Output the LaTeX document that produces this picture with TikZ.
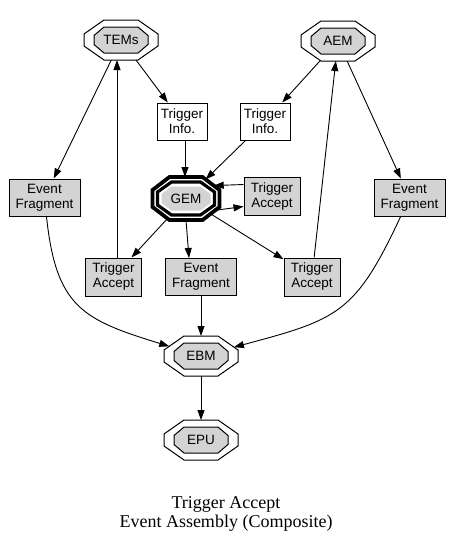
\documentclass[tikz,border=0pt]{standalone}
\usepackage{fontspec}
\setmainfont{Liberation Sans}
\newfontfamily\captionfont{Liberation Serif}
\usetikzlibrary{arrows.meta}
\definecolor{nodegray}{HTML}{D3D3D3}

% stretched octagon (graphviz style), cut sizes set by octagon xcut/ycut
\makeatletter
\pgfkeys{/pgf/octagon xcut/.initial=10pt, /pgf/octagon ycut/.initial=8pt}
\pgfdeclareshape{gvoctagon}{%
  \inheritsavedanchors[from=rectangle]%
  \inheritanchor[from=rectangle]{center}%
  \inheritanchor[from=rectangle]{north}%
  \inheritanchor[from=rectangle]{south}%
  \inheritanchor[from=rectangle]{east}%
  \inheritanchor[from=rectangle]{west}%
  \inheritanchor[from=rectangle]{text}%
  \inheritanchor[from=rectangle]{mid}%
  \inheritanchor[from=rectangle]{base}%
  \saveddimen{\octxc}{\pgfmathsetlength\pgf@x{\pgfkeysvalueof{/pgf/octagon xcut}}}%
  \saveddimen{\octyc}{\pgfmathsetlength\pgf@x{\pgfkeysvalueof{/pgf/octagon ycut}}}%
  \backgroundpath{%
    \southwest \pgf@xa=\pgf@x \pgf@ya=\pgf@y
    \northeast \pgf@xb=\pgf@x \pgf@yb=\pgf@y
    \edef\octxa{\the\pgf@xa}\edef\octya{\the\pgf@ya}%
    \edef\octxb{\the\pgf@xb}\edef\octyb{\the\pgf@yb}%
    \pgf@xc=\pgf@xa \advance\pgf@xc by\octxc \edef\octlx{\the\pgf@xc}%
    \pgf@xc=\pgf@xb \advance\pgf@xc by-\octxc \edef\octrx{\the\pgf@xc}%
    \pgf@yc=\pgf@ya \advance\pgf@yc by\octyc \edef\octby{\the\pgf@yc}%
    \pgf@yc=\pgf@yb \advance\pgf@yc by-\octyc \edef\octty{\the\pgf@yc}%
    \pgfpathmoveto{\pgfqpoint{\octlx}{\octyb}}%
    \pgfpathlineto{\pgfqpoint{\octrx}{\octyb}}%
    \pgfpathlineto{\pgfqpoint{\octxb}{\octty}}%
    \pgfpathlineto{\pgfqpoint{\octxb}{\octby}}%
    \pgfpathlineto{\pgfqpoint{\octrx}{\octya}}%
    \pgfpathlineto{\pgfqpoint{\octlx}{\octya}}%
    \pgfpathlineto{\pgfqpoint{\octxa}{\octby}}%
    \pgfpathlineto{\pgfqpoint{\octxa}{\octty}}%
    \pgfpathclose
  }%
  \anchorborder{%
    \edef\octdx{\pgf@sys@tonumber\pgf@x}%
    \edef\octdy{\pgf@sys@tonumber\pgf@y}%
    \southwest \pgf@xa=\pgf@x \pgf@ya=\pgf@y
    \northeast \pgf@xb=\pgf@x \pgf@yb=\pgf@y
    \pgf@xc=\pgf@xb \advance\pgf@xc by-\pgf@xa \pgf@xc=.5\pgf@xc
    \pgf@yc=\pgf@yb \advance\pgf@yc by-\pgf@ya \pgf@yc=.5\pgf@yc
    \edef\octa{\pgf@sys@tonumber\pgf@xc}\edef\octb{\pgf@sys@tonumber\pgf@yc}%
    \advance\pgf@xa by\pgf@xc \advance\pgf@ya by\pgf@yc
    \edef\octcx{\the\pgf@xa}\edef\octcy{\the\pgf@ya}%
    \pgf@xc=\octxc \edef\octp{\pgf@sys@tonumber\pgf@xc}%
    \pgf@yc=\octyc \edef\octq{\pgf@sys@tonumber\pgf@yc}%
    \pgfmathsetmacro\octlen{max(veclen(\octdx,\octdy),0.001)}%
    \pgfmathsetmacro\octux{max(abs(\octdx)/\octlen,0.01)}%
    \pgfmathsetmacro\octuy{max(abs(\octdy)/\octlen,0.01)}%
    \pgfmathsetmacro\octt{min(\octa/\octux,\octb/\octuy,(\octq*\octa+\octp*\octb-\octp*\octq)/(\octq*\octux+\octp*\octuy))}%
    \pgfmathsetmacro\octrx{\octt*\octdx/\octlen}%
    \pgfmathsetmacro\octry{\octt*\octdy/\octlen}%
    \pgf@x=\octrx pt \advance\pgf@x by\octcx
    \pgf@y=\octry pt \advance\pgf@y by\octcy
  }%
}
\makeatother

\begin{document}
\begin{tikzpicture}[x=1pt, y=-1pt, oct/.style={gvoctagon, inner sep=0pt, outer sep=0pt}, core/.style={oct, draw, line width=1pt, fill=nodegray, minimum width=54pt, minimum height=26pt, octagon xcut=10pt, octagon ycut=8.5pt, font=\fontsize{13.5}{15}\selectfont}, periph/.style={oct, draw, line width=1pt, minimum width=74pt, minimum height=40pt, octagon xcut=20pt, octagon ycut=14pt}, box/.style={draw, line width=1pt, fill=nodegray, align=center, inner sep=0pt, minimum height=37pt, font=\fontsize{13.5}{15}\selectfont}, rel/.style={-{Triangle[length=10pt, width=7pt]}, line width=0.9pt}]
\useasboundingbox (0,0) rectangle (452,547);
% double octagons
\node[periph] (tems) at (121,40) {};
\node[core] (temscore) at (tems.center) {TEMs};
\node[periph] (aem) at (338,41) {};
\node[core] (aemcore) at (aem.center) {AEM};
\node[periph] (ebm) at (201,356) {};
\node[core] (ebmcore) at (ebm.center) {EBM};
\node[periph] (epu) at (201,440) {};
\node[core] (epucore) at (epu.center) {EPU};
% GEM, bold triple octagon
\node[oct, draw, line width=3.8pt, minimum width=67pt, minimum height=43pt, octagon xcut=17pt, octagon ycut=13pt] (gem) at (186,198.5) {};
\node[oct, draw, line width=3.2pt, minimum width=57pt, minimum height=33pt, octagon xcut=14pt, octagon ycut=10pt] (gemmid) at (gem.center) {};
\node[core, draw=none, minimum width=49pt, minimum height=24pt, octagon xcut=10pt, octagon ycut=7.5pt] (gemcore) at (gem.center) {GEM};
% boxes
\node[box, fill=white, minimum width=50pt] (tinfol) at (182,121.5) {Trigger\\Info.};
\node[box, fill=white, minimum width=50pt] (tinfor) at (265,121.5) {Trigger\\Info.};
\node[box, minimum width=71pt] (efragl) at (44.5,197.5) {Event\\Fragment};
\node[box, minimum width=71pt] (efragr) at (409.5,197.5) {Event\\Fragment};
\node[box, minimum width=56pt, minimum height=38pt] (tacc) at (272,196.5) {Trigger\\Accept};
\node[box, minimum width=56pt, minimum height=38pt] (taccl) at (113.5,277) {Trigger\\Accept};
\node[box, minimum width=71pt] (efragm) at (201,277) {Event\\Fragment};
\node[box, minimum width=56pt, minimum height=38pt] (taccr) at (312,277) {Trigger\\Accept};
% caption
\node[font=\captionfont\fontsize{18}{19}\selectfont, align=center] (caption) at (226,514) {Trigger Accept\\Event Assembly (Composite)};
% edges
\draw[rel] (tems) -- (efragl);
\draw[rel] (tems) -- (tinfol);
\draw[rel] ([xshift=3.5pt]taccl.north) -- ([xshift=-4pt]tems.south);
\draw[rel] (aem) -- (tinfor);
\draw[rel] (aem) -- (efragr);
\draw[rel] (taccr) -- (aem);
\draw[rel] ([xshift=3pt]tinfol.south) -- ([xshift=-1pt]gem.north);
\draw[rel] (tinfor) -- (gem);
\draw[rel] ([yshift=12pt]tacc.west) -- (gem.25);
\draw[rel] (gem.-22) -- ([yshift=-10pt]tacc.west);
\draw[rel] (gem) -- (taccl);
\draw[rel] (gem.south) -- ([xshift=-12pt]efragm.north);
\draw[rel] (gem) -- (taccr);
\draw[rel] (efragl) to[out=-84, in=163, looseness=1.3] (ebm);
\draw[rel] (efragm) -- (ebm);
\draw[rel] (efragr) to[out=-115, in=15, looseness=1.3] (ebm);
\draw[rel] (ebm) -- (epu);
\end{tikzpicture}
\end{document}
